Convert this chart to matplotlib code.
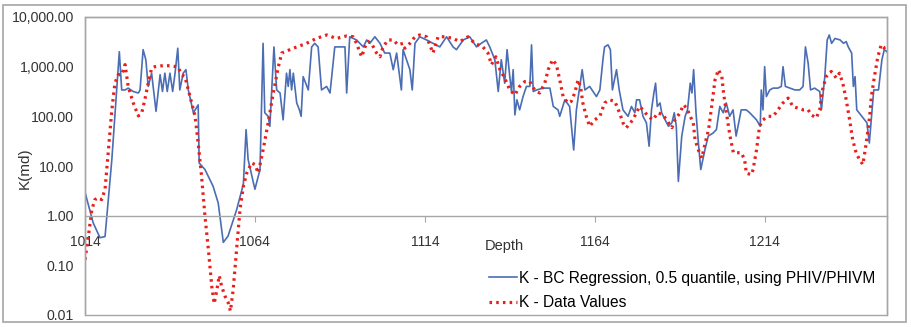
import matplotlib.pyplot as plt
from matplotlib.patches import Rectangle

plt.rcParams['font.family'] = ['Liberation Sans', 'DejaVu Sans']

# K - BC Regression (blue)
depth_fit = [1014.0, 1016.4, 1018.4, 1019.9, 1021.9, 1023.3, 1024.1, 1024.8, 1025.8, 1026.7,
             1028.2, 1029.7, 1030.2, 1031.1, 1031.9, 1032.6, 1033.6, 1034.9, 1036.1, 1036.8,
             1037.5, 1038.2, 1039.0, 1039.8, 1040.5, 1041.3, 1041.9, 1042.9, 1043.7, 1044.4,
             1045.9, 1047.3, 1047.6, 1049.3, 1051.7, 1053.2, 1054.7, 1056.1, 1058.6, 1060.6,
             1061.4, 1062.0, 1064.0, 1065.5, 1066.4, 1066.9, 1067.9, 1068.4, 1069.6, 1070.4,
             1071.4, 1072.3, 1073.3, 1073.8, 1074.3, 1074.8, 1075.3, 1076.3, 1077.1, 1077.6,
             1078.2, 1079.7, 1080.7, 1081.6, 1082.6, 1083.6, 1085.1, 1086.1, 1087.5, 1089.0,
             1090.5, 1091.0, 1091.9, 1093.9, 1095.9, 1096.9, 1097.8, 1099.3, 1100.8, 1102.2,
             1103.7, 1104.7, 1105.7, 1107.1, 1107.6, 1108.6, 1109.6, 1110.3, 1111.1, 1112.5,
             1114.5, 1116.4, 1118.4, 1120.4, 1122.3, 1123.3, 1125.3, 1127.2, 1129.2, 1130.6,
             1132.1, 1133.1, 1134.6, 1135.6, 1136.5, 1137.5, 1138.2, 1139.0, 1139.5, 1140.0,
             1140.5, 1141.1, 1141.9, 1142.9, 1143.9, 1144.9, 1145.4, 1145.9, 1146.9, 1148.8,
             1150.8, 1151.8, 1153.2, 1153.7, 1155.2, 1156.6, 1157.8, 1158.6, 1159.6, 1160.3,
             1161.1, 1162.5, 1164.5, 1165.5, 1166.5, 1166.9, 1167.9, 1168.6, 1169.2, 1170.4,
             1171.2, 1172.3, 1173.8, 1174.8, 1175.8, 1176.3, 1177.2, 1178.2, 1179.2, 1180.0,
             1180.7, 1181.4, 1181.9, 1182.4, 1183.2, 1183.7, 1184.7, 1185.7, 1186.7, 1187.4,
             1188.0, 1188.6, 1189.6, 1190.6, 1191.3, 1192.1, 1192.6, 1193.1, 1193.8, 1194.5,
             1195.2, 1196.4, 1197.4, 1198.8, 1199.8, 1200.8, 1201.8, 1202.7, 1203.7, 1204.7,
             1205.6, 1207.1, 1208.6, 1209.6, 1211.6, 1212.7, 1213.0, 1213.5, 1214.0, 1214.5,
             1215.5, 1216.5, 1217.9, 1218.9, 1219.4, 1220.1, 1221.4, 1222.9, 1224.3, 1225.3,
             1226.0, 1226.8, 1227.5, 1228.7, 1230.2, 1230.7, 1231.7, 1232.4, 1233.0, 1233.7,
             1234.7, 1236.2, 1237.2, 1238.0, 1238.6, 1239.6, 1240.1, 1240.6, 1241.1, 1242.6,
             1244.1, 1244.8, 1245.6, 1246.1, 1247.5, 1248.5, 1249.2, 1250.0]
k_fit = [2.97, 0.72, 0.36, 0.38, 13.5, 340, 2000, 340, 340, 370,
         316, 295, 340, 2200, 1380, 400, 740, 126, 690, 316,
         740, 316, 740, 316, 740, 2350, 340, 740, 870, 340,
         118, 170, 11.5, 8.5, 3.9, 1.8, 0.29, 0.39, 1.3, 4.3,
         54, 13.5, 3.4, 8.5, 2950, 118, 100, 63, 2500, 340,
         295, 85, 740, 400, 870, 340, 740, 186, 135, 100,
         630, 340, 2500, 2950, 2500, 340, 400, 295, 2500, 2500,
         2500, 295, 4000, 3450, 2500, 3450, 2950, 4000, 2950, 1880,
         1880, 870, 1880, 340, 2200, 1380, 870, 340, 2950, 4000,
         3450, 2950, 2500, 4000, 2500, 2200, 3450, 4000, 2500, 2950,
         3450, 2500, 1380, 316, 1380, 465, 2200, 630, 316, 870,
         107, 215, 135, 250, 400, 400, 2750, 316, 340, 370,
         370, 158, 135, 100, 215, 158, 21, 135, 400, 870,
         340, 400, 250, 340, 1580, 2500, 2750, 2200, 340, 870,
         340, 135, 100, 158, 118, 215, 215, 100, 74, 25,
         135, 295, 465, 158, 186, 118, 85, 63, 74, 118,
         63, 4.9, 40, 100, 135, 465, 295, 870, 118, 29,
         8.5, 21, 40, 46, 54, 158, 118, 186, 100, 135,
         40, 135, 135, 118, 85, 63, 340, 135, 1000, 250,
         340, 370, 370, 400, 1000, 400, 370, 340, 340, 400,
         2500, 1170, 340, 370, 316, 135, 630, 3450, 4350, 2950,
         3700, 3450, 2950, 3200, 2500, 1880, 400, 630, 135, 100,
         74, 29, 135, 340, 340, 1380, 2200, 2000]

# K - Data Values (red dotted)
depth_data = [1014.0, 1015.0, 1016.0, 1016.9, 1017.9, 1018.9, 1019.9, 1020.9, 1021.9, 1022.8,
              1023.8, 1024.8, 1025.8, 1026.7, 1028.2, 1029.7, 1030.7, 1031.6, 1032.6, 1033.6,
              1034.6, 1037.0, 1039.5, 1041.4, 1042.4, 1043.4, 1044.4, 1045.4, 1046.4, 1047.3,
              1048.3, 1049.3, 1050.3, 1051.3, 1052.0, 1052.7, 1053.5, 1054.2, 1055.2, 1056.1,
              1056.8, 1057.6, 1058.6, 1059.6, 1060.6, 1061.6, 1063.0, 1064.0, 1065.0, 1066.4,
              1067.9, 1069.4, 1070.9, 1071.9, 1075.3, 1079.2, 1082.1, 1085.1, 1088.0, 1091.0,
              1092.9, 1093.9, 1095.4, 1096.4, 1097.3, 1098.3, 1099.8, 1100.8, 1101.7, 1103.2,
              1104.7, 1106.1, 1107.6, 1108.1, 1109.6, 1111.1, 1112.5, 1114.5, 1116.4, 1117.9,
              1120.0, 1122.3, 1124.3, 1126.7, 1128.7, 1131.1, 1132.6, 1133.6, 1134.9, 1136.1,
              1137.5, 1139.0, 1140.5, 1141.9, 1143.4, 1144.9, 1146.3, 1147.8, 1149.3, 1150.3,
              1151.6, 1152.7, 1153.7, 1154.7, 1156.1, 1157.1, 1158.1, 1159.1, 1159.8, 1160.5,
              1161.5, 1162.5, 1164.0, 1165.5, 1166.9, 1168.4, 1169.9, 1171.3, 1172.3, 1173.3,
              1175.2, 1177.2, 1178.2, 1179.7, 1181.1, 1182.6, 1184.1, 1185.7, 1186.7, 1187.6,
              1189.1, 1190.1, 1191.1, 1192.1, 1193.0, 1193.5, 1194.5, 1195.5, 1196.5, 1197.5,
              1198.4, 1199.4, 1200.4, 1201.4, 1201.9, 1202.9, 1203.8, 1204.8, 1205.8, 1207.1,
              1208.1, 1208.6, 1209.1, 1210.1, 1210.6, 1211.6, 1212.5, 1213.5, 1215.0, 1216.5,
              1217.9, 1219.4, 1220.9, 1222.3, 1223.8, 1225.3, 1226.8, 1227.7, 1229.2, 1230.2,
              1231.0, 1232.1, 1233.6, 1235.1, 1236.0, 1237.0, 1238.0, 1239.0, 1239.9, 1240.9,
              1241.9, 1242.9, 1243.9, 1244.9, 1245.4, 1246.3, 1247.3, 1248.3, 1249.0, 1249.8]
k_data = [0.13, 0.39, 1.3, 2.1, 2.3, 2.1, 3.4, 21, 135, 465,
          690, 690, 1100, 400, 186, 102, 118, 215, 465, 930,
          1000, 1050, 1040, 980, 690, 630, 340, 186, 100, 29,
          6.2, 0.98, 0.21, 0.038, 0.017, 0.029, 0.062, 0.038, 0.024, 0.018,
          0.012, 0.032, 0.21, 1.3, 3.9, 7.2, 11.5, 10.7, 7.2, 21,
          74, 295, 1000, 1880, 2350, 2950, 3700, 4350, 3700, 4150,
          4000, 2950, 1580, 2500, 3200, 2950, 1880, 1580, 2500, 3450,
          3450, 2750, 2950, 2350, 2950, 4000, 4350, 4000, 1880, 4000,
          4000, 3700, 3200, 4000, 2950, 2500, 1880, 1100, 1580, 870,
          590, 340, 270, 400, 500, 500, 340, 295, 465, 870,
          1380, 1100, 545, 250, 186, 200, 295, 545, 400, 186,
          100, 63, 85, 100, 186, 215, 200, 118, 74, 59,
          85, 158, 135, 100, 85, 118, 107, 74, 59, 85,
          118, 170, 146, 100, 74, 34, 21, 14.5, 29, 54,
          158, 545, 870, 630, 295, 100, 40, 18.5, 18.5, 18.5,
          13.5, 7.2, 7.0, 6.7, 8.5, 21, 63, 85, 100, 100,
          135, 186, 233, 158, 146, 135, 135, 107, 93, 135,
          340, 630, 800, 590, 740, 465, 215, 85, 34, 18.5,
          13.5, 10.7, 29, 100, 250, 630, 1580, 2750, 2500, 1880]

x_ticks = [1014, 1064, 1114, 1164, 1214]
y_ticks = [0.01, 0.1, 1, 10, 100, 1000, 10000]
y_tick_labels = ['0.01', '0.10', '1.00', '10.00', '100.00', '1,000.00', '10,000.00']

fig = plt.figure(figsize=(9.12, 3.27), dpi=100)
ax = fig.add_axes([85 / 912, 1 - 315 / 327, (887 - 85) / 912, (315 - 17) / 327])

# chart area frame
fig.patches.append(Rectangle((3 / 912, 5 / 327), 903 / 912, 317 / 327, transform=fig.transFigure,
                             fill=False, edgecolor='#a6a6a6', linewidth=1.2))

ax.plot(depth_fit, k_fit, color='#4a6db3', linewidth=1.2,
        label='K - BC Regression, 0.5 quantile, using PHIV/PHIVM')
ax.plot(depth_data, k_data, color='#e8201c', linewidth=2.3, linestyle=(0, (0.8, 1.3)),
        label='K - Data Values')

ax.set_yscale('log')
ax.set_ylim(0.01, 10000)
ax.set_xlim(1014, 1250)
ax.set_yticks(y_ticks)
ax.set_yticklabels(y_tick_labels)
ax.minorticks_off()
ax.set_xticks(x_ticks)

# x axis crosses at K = 1
ax.spines['bottom'].set_position(('data', 1))
for s in ['bottom', 'left', 'top', 'right']:
    ax.spines[s].set_color('#a6a6a6')
    ax.spines[s].set_linewidth(1.0)
ax.add_patch(Rectangle((0, 0), 1, 1, transform=ax.transAxes, fill=False,
                       edgecolor='#a6a6a6', linewidth=1.0, clip_on=False))
ax.tick_params(axis='x', direction='out', length=4, color='#a6a6a6', pad=10,
               labelsize=10, labelcolor='#333333')
ax.tick_params(axis='y', length=0, pad=8, labelsize=10.2, labelcolor='#333333')

fig.text(25 / 912, 1 - 168 / 327, 'K(md)', rotation=90, fontsize=11, color='#333333',
         ha='center', va='center')
ax.text(1131.5, 0.24, 'Depth', fontsize=10.5, color='#333333', ha='left', va='center')

ax.legend(loc='lower right', frameon=False, fontsize=11.2, handlelength=1.75,
          handletextpad=0.15, labelspacing=0.6, borderaxespad=0.1,
          bbox_to_anchor=(0.995, -0.01))

fig.savefig('out.png', dpi=100)
